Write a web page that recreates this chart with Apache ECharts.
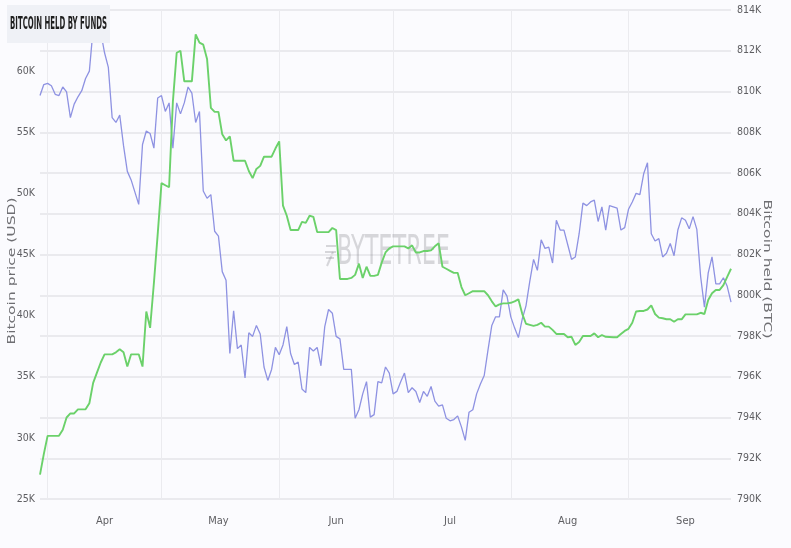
<!DOCTYPE html>
<html>
<head>
<meta charset="utf-8">
<script src="https://cdn.jsdelivr.net/npm/echarts@6/dist/echarts.min.js"></script>
<style>
html,body{margin:0;padding:0;background:#fbfbfe;}
#chart{width:791px;height:548px;}
</style>
</head>
<body>
<div id="chart"></div>
<script>
// ---- data ----
const startDate = '2021-03-30';
const dayCount = 183;
const monthLabels = ['Jan','Feb','Mar','Apr','May','Jun','Jul','Aug','Sep','Oct','Nov','Dec'];

// Bitcoin price (USD, thousands), daily
const priceK = [
58.0,58.9,59.0,58.8,58.1,58.0,58.7,58.3,56.2,57.3,
57.9,58.4,59.4,60.0,63.5,62.9,63.2,61.5,60.3,56.2,
55.8,56.4,53.9,51.8,51.1,50.1,49.1,54.0,55.1,54.9,
53.7,57.8,58.0,56.7,57.4,53.7,57.4,56.5,57.4,58.7,
58.2,55.8,56.7,50.2,49.6,49.9,46.9,46.5,43.6,42.9,
36.9,40.4,37.3,37.6,34.9,38.6,38.3,39.2,38.5,35.8,
34.7,35.6,37.4,36.8,37.6,39.1,36.9,36.0,36.2,34.0,
33.7,37.4,37.1,37.4,35.9,39.1,40.5,40.2,38.3,38.1,
35.6,35.6,35.6,31.6,32.3,33.6,34.6,31.7,31.9,34.6,
34.5,35.8,35.3,33.6,33.8,34.6,35.3,33.7,34.1,33.8,
32.9,33.8,33.4,34.2,33.0,32.6,32.7,31.6,31.4,31.5,
31.8,30.9,29.8,32.1,32.3,33.6,34.4,35.1,37.2,39.2,
39.9,39.9,42.1,41.6,39.9,39.0,38.2,39.7,40.8,42.8,
44.6,43.7,46.2,45.5,45.6,44.3,47.8,47.0,47.0,45.8,
44.6,44.8,46.7,49.2,49.0,49.3,49.45,47.7,48.9,47.0,
49.0,48.9,48.8,47.0,47.2,48.7,49.3,50.0,49.9,51.6,
52.5,46.7,46.1,46.3,44.8,45.1,45.9,44.9,47.0,48.0,
47.8,47.1,48.1,47.05,43.2,40.7,43.5,44.8,42.6,42.6,
43.1,42.4,41.1
];

// Bitcoin held by funds (BTC, thousands), daily
const heldK = [
791.2,792.2,793.1,793.1,793.1,793.1,793.4,794.0,794.2,794.2,
794.4,794.4,794.4,794.7,795.7,796.2,796.7,797.1,797.1,797.1,
797.2,797.35,797.2,796.5,797.1,797.1,797.1,796.5,799.2,798.4,
800.6,803.0,805.5,805.4,805.3,809.5,811.9,812.0,810.5,810.5,
810.5,812.8,812.4,812.3,811.6,809.2,809.0,809.0,807.9,807.6,
807.8,806.6,806.6,806.6,806.6,806.1,805.75,806.2,806.35,806.8,
806.8,806.8,807.2,807.55,804.4,803.9,803.2,803.2,803.2,803.6,
803.55,803.9,803.85,803.1,803.1,803.1,803.1,803.3,803.2,800.8,
800.8,800.8,800.85,801.0,801.55,800.85,801.4,800.95,800.95,801.0,
801.6,802.1,802.3,802.4,802.4,802.4,802.4,802.3,802.45,802.1,
802.1,802.17,802.17,802.2,802.4,802.55,801.4,801.3,801.2,801.1,
801.1,800.4,800.0,800.1,800.2,800.2,800.2,800.2,800.0,799.7,
799.45,799.55,799.6,799.6,799.63,799.7,799.8,799.1,798.6,798.55,
798.5,798.55,798.65,798.46,798.46,798.3,798.1,798.1,798.1,797.94,
797.96,797.56,797.7,798.0,798.0,798.0,798.13,797.94,798.05,797.96,
797.95,797.94,797.94,798.1,798.25,798.35,798.65,799.2,799.23,799.23,
799.3,799.5,799.08,798.9,798.87,798.82,798.82,798.7,798.82,798.82,
799.06,799.06,799.06,799.06,799.14,799.08,799.77,800.1,800.26,800.26,
800.5,800.9,801.3
];

// ---- categories (daily dates) ----
const dates = [];
{
  const d0 = new Date(startDate + 'T00:00:00Z');
  for (let i = 0; i < dayCount; i++) {
    const d = new Date(d0.getTime() + i * 86400000);
    dates.push(d.toISOString().slice(0, 10));
  }
}
const dayOf = v => parseInt(v.slice(8, 10), 10);
const monthOf = v => parseInt(v.slice(5, 7), 10) - 1;

// ---- text fitting helper ----
const ctx = document.createElement('canvas').getContext('2d');
function fitScale(text, weight, size, family, target) {
  ctx.font = weight + ' ' + size + 'px ' + family;
  return target / ctx.measureText(text).width;
}
const narrow = '"Liberation Sans Narrow", "DejaVu Sans Condensed", "Liberation Sans", sans-serif';
const titleText = 'BITCOIN HELD BY FUNDS';
const titleScale = fitScale(titleText, 'bold', 18, narrow, 97);
const wmText = 'BYTETREE';
const wmScale = fitScale(wmText, 'normal', 41, narrow, 113);
const leftName = 'Bitcoin price (USD)';
const rightName = 'Bitcoin held (BTC)';
const nameFamily = '"DejaVu Sans", sans-serif';
const leftNameScale = fitScale(leftName, 'normal', 10.5, nameFamily, 147);
const rightNameScale = fitScale(rightName, 'normal', 10.5, nameFamily, 139);

const chart = echarts.init(document.getElementById('chart'), null, {renderer: 'canvas'});
chart.setOption({
  backgroundColor: '#fbfbfe',
  animation: false,
  grid: {left: 40, right: 60, top: 10, bottom: 49, containLabel: false},
  xAxis: {
    type: 'category',
    data: dates,
    boundaryGap: false,
    axisLine: {show: false},
    axisTick: {show: false},
    axisLabel: {
      interval: (i, v) => dayOf(v) === 16,
      formatter: v => monthLabels[monthOf(v)],
      color: '#5e5e62',
      fontSize: 11,
      fontFamily: narrow,
      margin: 17
    },
    splitLine: {
      show: true,
      interval: (i, v) => dayOf(v) === 1,
      lineStyle: {color: '#ebebef', width: 1}
    }
  },
  yAxis: [
    {
      type: 'value',
      position: 'left',
      min: 25, max: 65, interval: 5,
      axisLine: {show: false},
      axisTick: {show: false},
      splitLine: {show: false},
      axisLabel: {
        formatter: v => v + 'K',
        color: '#5e5e62',
        fontSize: 10.5,
        fontFamily: narrow,
        margin: 5,
        showMaxLabel: false
      }
    },
    {
      type: 'value',
      position: 'right',
      min: 790, max: 814, interval: 2,
      axisLine: {show: false},
      axisTick: {show: false},
      splitLine: {show: true, lineStyle: {color: '#e4e4e8', width: 1.5}},
      axisLabel: {
        formatter: v => v + 'K',
        color: '#5e5e62',
        fontSize: 10.5,
        fontFamily: narrow,
        margin: 6
      }
    }
  ],
  series: [
    {
      name: 'Bitcoin price',
      type: 'line',
      yAxisIndex: 0,
      data: priceK,
      showSymbol: false,
      symbol: 'none',
      lineStyle: {color: '#8e92e2', width: 1.3},
      z: 2
    },
    {
      name: 'Bitcoin held',
      type: 'line',
      yAxisIndex: 1,
      data: heldK,
      showSymbol: false,
      symbol: 'none',
      lineStyle: {color: '#6bd16a', width: 1.9},
      z: 3
    }
  ],
  graphic: [
    // watermark
    {
      type: 'text', x: 337, y: 253, z: 1, silent: true,
      scaleX: wmScale,
      style: {text: wmText, fontSize: 41, fontFamily: narrow, fill: 'rgba(130,130,135,0.3)',
              textAlign: 'left', textVerticalAlign: 'middle'}
    },
    {
      type: 'group', z: 1, silent: true,
      children: [
        {type: 'line', shape: {x1: 326, y1: 246, x2: 336, y2: 246}, style: {stroke: 'rgba(130,130,135,0.3)', lineWidth: 2}},
        {type: 'line', shape: {x1: 325, y1: 252, x2: 336, y2: 252}, style: {stroke: 'rgba(130,130,135,0.3)', lineWidth: 2}},
        {type: 'line', shape: {x1: 326, y1: 258, x2: 334, y2: 258}, style: {stroke: 'rgba(130,130,135,0.3)', lineWidth: 2}},
        {type: 'line', shape: {x1: 333, y1: 252, x2: 327, y2: 266}, style: {stroke: 'rgba(130,130,135,0.3)', lineWidth: 2}}
      ]
    },
    // title box
    {
      type: 'rect', z: 100,
      shape: {x: 7, y: 5, width: 103, height: 38},
      style: {fill: '#eff1f6'}
    },
    {
      type: 'text', x: 10, y: 24, z: 101,
      scaleX: titleScale,
      style: {text: titleText, fontSize: 18, fontWeight: 'bold', fontFamily: narrow, fill: '#1e1e1e',
              textAlign: 'left', textVerticalAlign: 'middle'}
    },
    // axis names
    {
      type: 'text', x: 12, y: 271, z: 50, rotation: Math.PI / 2,
      scaleX: leftNameScale,
      style: {text: leftName, fontSize: 10.5, fontWeight: 'normal', fontFamily: nameFamily, fill: '#6e6e72',
              textAlign: 'center', textVerticalAlign: 'middle'}
    },
    {
      type: 'text', x: 767, y: 269, z: 50, rotation: -Math.PI / 2,
      scaleX: rightNameScale,
      style: {text: rightName, fontSize: 10.5, fontWeight: 'normal', fontFamily: nameFamily, fill: '#6e6e72',
              textAlign: 'center', textVerticalAlign: 'middle'}
    }
  ]
});
</script>
</body>
</html>
